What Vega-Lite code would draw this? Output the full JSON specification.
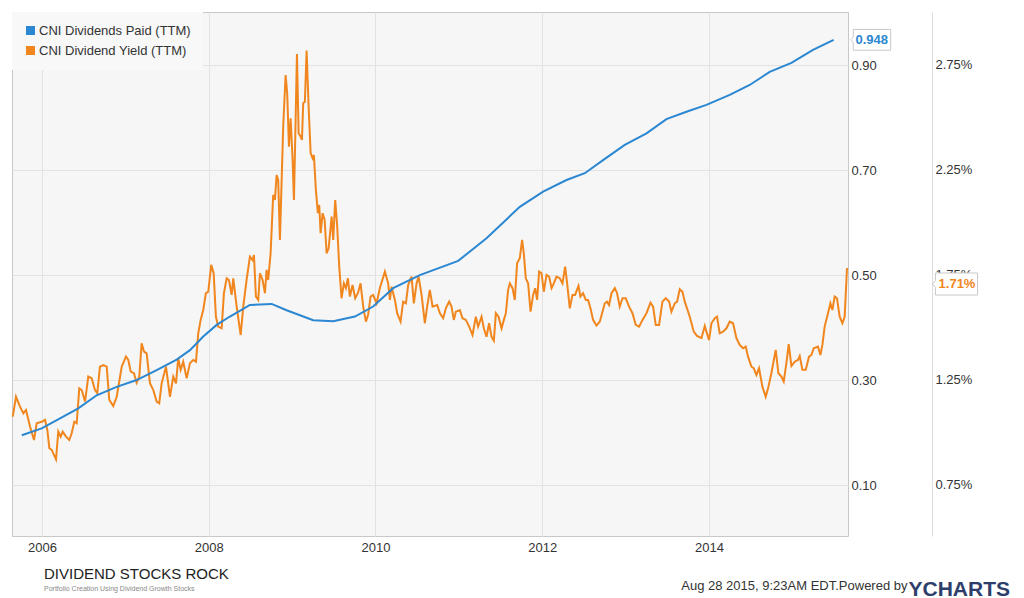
{
  "$schema": "https://vega.github.io/schema/vega-lite/v6.json",
  "width": 836,
  "height": 524,
  "autosize": {"type": "none"},
  "padding": {"left": 12, "top": 12, "right": 176, "bottom": 62},
  "background": "white",
  "config": {
    "font": "Liberation Sans",
    "view": {"fill": "#f6f6f6", "stroke": "#c8c8c8", "strokeWidth": 1},
    "axis": {
      "labelFont": "Liberation Sans",
      "labelFontSize": 13,
      "labelColor": "#333333",
      "ticks": false,
      "domain": false,
      "gridColor": "#e2e2e2",
      "gridWidth": 1
    }
  },
  "title": {
    "text": "DIVIDEND STOCKS ROCK",
    "subtitle": "Portfolio Creation Using Dividend Growth Stocks",
    "orient": "bottom",
    "anchor": "start",
    "frame": "group",
    "dx": 32,
    "dy": -32,
    "offset": 0,
    "font": "Liberation Sans",
    "fontSize": 15,
    "fontWeight": "normal",
    "color": "#222222",
    "subtitleFont": "Liberation Sans",
    "subtitleFontSize": 7,
    "subtitleColor": "#888888",
    "subtitlePadding": 3
  },
  "datasets": {
    "paid": [
      {"year": 2005.757, "paid": 0.195},
      {"year": 2005.996, "paid": 0.208},
      {"year": 2006.216, "paid": 0.227},
      {"year": 2006.435, "paid": 0.246},
      {"year": 2006.656, "paid": 0.271},
      {"year": 2006.896, "paid": 0.287},
      {"year": 2007.135, "paid": 0.300},
      {"year": 2007.375, "paid": 0.319},
      {"year": 2007.615, "paid": 0.339},
      {"year": 2007.775, "paid": 0.357},
      {"year": 2007.934, "paid": 0.383},
      {"year": 2008.095, "paid": 0.405},
      {"year": 2008.254, "paid": 0.421},
      {"year": 2008.494, "paid": 0.443},
      {"year": 2008.754, "paid": 0.445},
      {"year": 2008.934, "paid": 0.433},
      {"year": 2009.253, "paid": 0.414},
      {"year": 2009.493, "paid": 0.412},
      {"year": 2009.753, "paid": 0.421},
      {"year": 2009.972, "paid": 0.440},
      {"year": 2010.212, "paid": 0.475},
      {"year": 2010.532, "paid": 0.500},
      {"year": 2010.992, "paid": 0.527},
      {"year": 2011.332, "paid": 0.570},
      {"year": 2011.731, "paid": 0.630},
      {"year": 2012.011, "paid": 0.659},
      {"year": 2012.291, "paid": 0.681},
      {"year": 2012.511, "paid": 0.694},
      {"year": 2012.730, "paid": 0.719},
      {"year": 2012.990, "paid": 0.748},
      {"year": 2013.251, "paid": 0.770},
      {"year": 2013.490, "paid": 0.797},
      {"year": 2013.730, "paid": 0.811},
      {"year": 2013.970, "paid": 0.824},
      {"year": 2014.249, "paid": 0.843},
      {"year": 2014.489, "paid": 0.862},
      {"year": 2014.729, "paid": 0.887},
      {"year": 2014.989, "paid": 0.904},
      {"year": 2015.248, "paid": 0.929},
      {"year": 2015.496, "paid": 0.948}
    ],
    "yield": [
      {"year": 2005.649, "yield": 1.075},
      {"year": 2005.688, "yield": 1.170},
      {"year": 2005.736, "yield": 1.123},
      {"year": 2005.776, "yield": 1.091},
      {"year": 2005.808, "yield": 1.107},
      {"year": 2005.856, "yield": 1.028},
      {"year": 2005.904, "yield": 0.964},
      {"year": 2005.936, "yield": 1.044},
      {"year": 2005.996, "yield": 1.051},
      {"year": 2006.036, "yield": 1.060},
      {"year": 2006.064, "yield": 1.012},
      {"year": 2006.088, "yield": 0.925},
      {"year": 2006.116, "yield": 0.917},
      {"year": 2006.168, "yield": 0.872},
      {"year": 2006.195, "yield": 1.004},
      {"year": 2006.224, "yield": 0.980},
      {"year": 2006.248, "yield": 1.004},
      {"year": 2006.288, "yield": 0.980},
      {"year": 2006.327, "yield": 0.964},
      {"year": 2006.356, "yield": 0.996},
      {"year": 2006.387, "yield": 1.051},
      {"year": 2006.416, "yield": 1.044},
      {"year": 2006.447, "yield": 1.210},
      {"year": 2006.476, "yield": 1.202},
      {"year": 2006.516, "yield": 1.147},
      {"year": 2006.555, "yield": 1.266},
      {"year": 2006.596, "yield": 1.258},
      {"year": 2006.635, "yield": 1.202},
      {"year": 2006.663, "yield": 1.187},
      {"year": 2006.695, "yield": 1.313},
      {"year": 2006.735, "yield": 1.321},
      {"year": 2006.776, "yield": 1.313},
      {"year": 2006.807, "yield": 1.155},
      {"year": 2006.855, "yield": 1.126},
      {"year": 2006.896, "yield": 1.170},
      {"year": 2006.956, "yield": 1.313},
      {"year": 2007.007, "yield": 1.361},
      {"year": 2007.035, "yield": 1.345},
      {"year": 2007.064, "yield": 1.290},
      {"year": 2007.103, "yield": 1.282},
      {"year": 2007.135, "yield": 1.237},
      {"year": 2007.167, "yield": 1.266},
      {"year": 2007.195, "yield": 1.425},
      {"year": 2007.223, "yield": 1.385},
      {"year": 2007.255, "yield": 1.377},
      {"year": 2007.295, "yield": 1.234},
      {"year": 2007.335, "yield": 1.202},
      {"year": 2007.375, "yield": 1.147},
      {"year": 2007.406, "yield": 1.139},
      {"year": 2007.435, "yield": 1.234},
      {"year": 2007.487, "yield": 1.313},
      {"year": 2007.535, "yield": 1.170},
      {"year": 2007.574, "yield": 1.266},
      {"year": 2007.607, "yield": 1.234},
      {"year": 2007.634, "yield": 1.353},
      {"year": 2007.663, "yield": 1.298},
      {"year": 2007.694, "yield": 1.337},
      {"year": 2007.735, "yield": 1.258},
      {"year": 2007.775, "yield": 1.330},
      {"year": 2007.814, "yield": 1.345},
      {"year": 2007.847, "yield": 1.337},
      {"year": 2007.874, "yield": 1.472},
      {"year": 2007.903, "yield": 1.536},
      {"year": 2007.934, "yield": 1.583},
      {"year": 2007.966, "yield": 1.663},
      {"year": 2007.994, "yield": 1.670},
      {"year": 2008.030, "yield": 1.798},
      {"year": 2008.059, "yield": 1.758},
      {"year": 2008.086, "yield": 1.551},
      {"year": 2008.114, "yield": 1.504},
      {"year": 2008.155, "yield": 1.496},
      {"year": 2008.182, "yield": 1.663},
      {"year": 2008.215, "yield": 1.734},
      {"year": 2008.242, "yield": 1.726},
      {"year": 2008.275, "yield": 1.655},
      {"year": 2008.294, "yield": 1.734},
      {"year": 2008.335, "yield": 1.599},
      {"year": 2008.383, "yield": 1.464},
      {"year": 2008.414, "yield": 1.599},
      {"year": 2008.454, "yield": 1.726},
      {"year": 2008.494, "yield": 1.837},
      {"year": 2008.526, "yield": 1.821},
      {"year": 2008.542, "yield": 1.845},
      {"year": 2008.566, "yield": 1.647},
      {"year": 2008.594, "yield": 1.631},
      {"year": 2008.614, "yield": 1.758},
      {"year": 2008.646, "yield": 1.726},
      {"year": 2008.674, "yield": 1.663},
      {"year": 2008.694, "yield": 1.774},
      {"year": 2008.713, "yield": 1.726},
      {"year": 2008.742, "yield": 1.853},
      {"year": 2008.773, "yield": 2.131},
      {"year": 2008.794, "yield": 2.107},
      {"year": 2008.814, "yield": 2.226},
      {"year": 2008.833, "yield": 2.202},
      {"year": 2008.854, "yield": 1.917},
      {"year": 2008.878, "yield": 2.250},
      {"year": 2008.893, "yield": 2.456},
      {"year": 2008.922, "yield": 2.702},
      {"year": 2008.941, "yield": 2.615},
      {"year": 2008.962, "yield": 2.361},
      {"year": 2008.982, "yield": 2.496},
      {"year": 2009.006, "yield": 2.298},
      {"year": 2009.022, "yield": 2.107},
      {"year": 2009.037, "yield": 2.393},
      {"year": 2009.058, "yield": 2.802},
      {"year": 2009.078, "yield": 2.425},
      {"year": 2009.102, "yield": 2.409},
      {"year": 2009.118, "yield": 2.393},
      {"year": 2009.133, "yield": 2.568},
      {"year": 2009.153, "yield": 2.575},
      {"year": 2009.174, "yield": 2.818},
      {"year": 2009.198, "yield": 2.551},
      {"year": 2009.222, "yield": 2.330},
      {"year": 2009.246, "yield": 2.306},
      {"year": 2009.261, "yield": 2.321},
      {"year": 2009.285, "yield": 2.155},
      {"year": 2009.309, "yield": 2.044},
      {"year": 2009.325, "yield": 2.083},
      {"year": 2009.342, "yield": 1.949},
      {"year": 2009.366, "yield": 2.044},
      {"year": 2009.390, "yield": 2.012},
      {"year": 2009.414, "yield": 1.853},
      {"year": 2009.438, "yield": 1.877},
      {"year": 2009.474, "yield": 2.028},
      {"year": 2009.493, "yield": 1.917},
      {"year": 2009.517, "yield": 2.107},
      {"year": 2009.541, "yield": 1.980},
      {"year": 2009.565, "yield": 1.790},
      {"year": 2009.593, "yield": 1.639},
      {"year": 2009.621, "yield": 1.710},
      {"year": 2009.645, "yield": 1.687},
      {"year": 2009.669, "yield": 1.734},
      {"year": 2009.693, "yield": 1.647},
      {"year": 2009.725, "yield": 1.702},
      {"year": 2009.757, "yield": 1.639},
      {"year": 2009.789, "yield": 1.663},
      {"year": 2009.821, "yield": 1.710},
      {"year": 2009.853, "yield": 1.599},
      {"year": 2009.885, "yield": 1.528},
      {"year": 2009.912, "yield": 1.560},
      {"year": 2009.941, "yield": 1.647},
      {"year": 2009.972, "yield": 1.655},
      {"year": 2010.013, "yield": 1.615},
      {"year": 2010.053, "yield": 1.688},
      {"year": 2010.113, "yield": 1.766},
      {"year": 2010.152, "yield": 1.710},
      {"year": 2010.173, "yield": 1.631},
      {"year": 2010.193, "yield": 1.694},
      {"year": 2010.233, "yield": 1.631},
      {"year": 2010.260, "yield": 1.568},
      {"year": 2010.301, "yield": 1.528},
      {"year": 2010.332, "yield": 1.623},
      {"year": 2010.365, "yield": 1.615},
      {"year": 2010.392, "yield": 1.702},
      {"year": 2010.433, "yield": 1.742},
      {"year": 2010.460, "yield": 1.615},
      {"year": 2010.493, "yield": 1.710},
      {"year": 2010.517, "yield": 1.742},
      {"year": 2010.553, "yield": 1.655},
      {"year": 2010.592, "yield": 1.520},
      {"year": 2010.620, "yield": 1.599},
      {"year": 2010.652, "yield": 1.679},
      {"year": 2010.685, "yield": 1.599},
      {"year": 2010.740, "yield": 1.607},
      {"year": 2010.772, "yield": 1.568},
      {"year": 2010.812, "yield": 1.544},
      {"year": 2010.844, "yield": 1.591},
      {"year": 2010.884, "yield": 1.623},
      {"year": 2010.912, "yield": 1.599},
      {"year": 2010.940, "yield": 1.536},
      {"year": 2010.964, "yield": 1.575},
      {"year": 2011.012, "yield": 1.583},
      {"year": 2011.044, "yield": 1.544},
      {"year": 2011.084, "yield": 1.536},
      {"year": 2011.124, "yield": 1.504},
      {"year": 2011.164, "yield": 1.464},
      {"year": 2011.204, "yield": 1.551},
      {"year": 2011.231, "yield": 1.504},
      {"year": 2011.272, "yield": 1.551},
      {"year": 2011.300, "yield": 1.496},
      {"year": 2011.332, "yield": 1.456},
      {"year": 2011.363, "yield": 1.520},
      {"year": 2011.392, "yield": 1.456},
      {"year": 2011.420, "yield": 1.437},
      {"year": 2011.444, "yield": 1.568},
      {"year": 2011.476, "yield": 1.551},
      {"year": 2011.512, "yield": 1.496},
      {"year": 2011.540, "yield": 1.536},
      {"year": 2011.564, "yield": 1.568},
      {"year": 2011.591, "yield": 1.679},
      {"year": 2011.612, "yield": 1.710},
      {"year": 2011.644, "yield": 1.687},
      {"year": 2011.671, "yield": 1.631},
      {"year": 2011.699, "yield": 1.806},
      {"year": 2011.731, "yield": 1.830},
      {"year": 2011.759, "yield": 1.917},
      {"year": 2011.779, "yield": 1.853},
      {"year": 2011.803, "yield": 1.734},
      {"year": 2011.831, "yield": 1.710},
      {"year": 2011.860, "yield": 1.575},
      {"year": 2011.891, "yield": 1.655},
      {"year": 2011.915, "yield": 1.687},
      {"year": 2011.939, "yield": 1.631},
      {"year": 2011.963, "yield": 1.766},
      {"year": 2011.992, "yield": 1.758},
      {"year": 2012.019, "yield": 1.670},
      {"year": 2012.052, "yield": 1.750},
      {"year": 2012.083, "yield": 1.742},
      {"year": 2012.112, "yield": 1.687},
      {"year": 2012.139, "yield": 1.710},
      {"year": 2012.171, "yield": 1.742},
      {"year": 2012.211, "yield": 1.734},
      {"year": 2012.243, "yield": 1.710},
      {"year": 2012.275, "yield": 1.790},
      {"year": 2012.299, "yield": 1.710},
      {"year": 2012.331, "yield": 1.591},
      {"year": 2012.363, "yield": 1.655},
      {"year": 2012.394, "yield": 1.655},
      {"year": 2012.435, "yield": 1.698},
      {"year": 2012.459, "yield": 1.647},
      {"year": 2012.490, "yield": 1.663},
      {"year": 2012.523, "yield": 1.631},
      {"year": 2012.550, "yield": 1.631},
      {"year": 2012.579, "yield": 1.591},
      {"year": 2012.610, "yield": 1.536},
      {"year": 2012.651, "yield": 1.509},
      {"year": 2012.691, "yield": 1.528},
      {"year": 2012.751, "yield": 1.615},
      {"year": 2012.778, "yield": 1.623},
      {"year": 2012.802, "yield": 1.607},
      {"year": 2012.831, "yield": 1.663},
      {"year": 2012.871, "yield": 1.687},
      {"year": 2012.898, "yield": 1.663},
      {"year": 2012.930, "yield": 1.599},
      {"year": 2012.963, "yield": 1.639},
      {"year": 2013.002, "yield": 1.639},
      {"year": 2013.042, "yield": 1.599},
      {"year": 2013.083, "yield": 1.568},
      {"year": 2013.122, "yield": 1.512},
      {"year": 2013.162, "yield": 1.504},
      {"year": 2013.203, "yield": 1.536},
      {"year": 2013.251, "yield": 1.568},
      {"year": 2013.299, "yield": 1.618},
      {"year": 2013.330, "yield": 1.599},
      {"year": 2013.362, "yield": 1.512},
      {"year": 2013.402, "yield": 1.512},
      {"year": 2013.442, "yield": 1.623},
      {"year": 2013.482, "yield": 1.639},
      {"year": 2013.522, "yield": 1.623},
      {"year": 2013.550, "yield": 1.575},
      {"year": 2013.590, "yield": 1.615},
      {"year": 2013.618, "yield": 1.623},
      {"year": 2013.650, "yield": 1.682},
      {"year": 2013.682, "yield": 1.670},
      {"year": 2013.710, "yield": 1.623},
      {"year": 2013.737, "yield": 1.591},
      {"year": 2013.770, "yield": 1.551},
      {"year": 2013.818, "yield": 1.480},
      {"year": 2013.857, "yield": 1.460},
      {"year": 2013.910, "yield": 1.449},
      {"year": 2013.950, "yield": 1.507},
      {"year": 2013.970, "yield": 1.480},
      {"year": 2014.001, "yield": 1.440},
      {"year": 2014.030, "yield": 1.520},
      {"year": 2014.070, "yield": 1.544},
      {"year": 2014.097, "yield": 1.551},
      {"year": 2014.129, "yield": 1.472},
      {"year": 2014.169, "yield": 1.480},
      {"year": 2014.210, "yield": 1.496},
      {"year": 2014.249, "yield": 1.528},
      {"year": 2014.289, "yield": 1.520},
      {"year": 2014.330, "yield": 1.449},
      {"year": 2014.369, "yield": 1.417},
      {"year": 2014.409, "yield": 1.401},
      {"year": 2014.441, "yield": 1.409},
      {"year": 2014.469, "yield": 1.361},
      {"year": 2014.510, "yield": 1.313},
      {"year": 2014.537, "yield": 1.306},
      {"year": 2014.570, "yield": 1.274},
      {"year": 2014.601, "yield": 1.306},
      {"year": 2014.641, "yield": 1.218},
      {"year": 2014.681, "yield": 1.170},
      {"year": 2014.709, "yield": 1.210},
      {"year": 2014.749, "yield": 1.282},
      {"year": 2014.801, "yield": 1.393},
      {"year": 2014.833, "yield": 1.282},
      {"year": 2014.869, "yield": 1.266},
      {"year": 2014.897, "yield": 1.242},
      {"year": 2014.929, "yield": 1.330},
      {"year": 2014.957, "yield": 1.421},
      {"year": 2014.989, "yield": 1.317},
      {"year": 2015.029, "yield": 1.337},
      {"year": 2015.068, "yield": 1.345},
      {"year": 2015.089, "yield": 1.364},
      {"year": 2015.121, "yield": 1.298},
      {"year": 2015.161, "yield": 1.298},
      {"year": 2015.200, "yield": 1.361},
      {"year": 2015.229, "yield": 1.369},
      {"year": 2015.257, "yield": 1.401},
      {"year": 2015.308, "yield": 1.409},
      {"year": 2015.337, "yield": 1.369},
      {"year": 2015.361, "yield": 1.417},
      {"year": 2015.388, "yield": 1.504},
      {"year": 2015.428, "yield": 1.568},
      {"year": 2015.457, "yield": 1.615},
      {"year": 2015.481, "yield": 1.583},
      {"year": 2015.508, "yield": 1.647},
      {"year": 2015.536, "yield": 1.639},
      {"year": 2015.568, "yield": 1.551},
      {"year": 2015.601, "yield": 1.520},
      {"year": 2015.628, "yield": 1.551},
      {"year": 2015.656, "yield": 1.783}
    ]
  },
  "encoding": {
    "x": {
      "field": "year",
      "type": "quantitative",
      "scale": {"domain": [2005.64, 2015.668], "nice": false, "zero": false},
      "axis": {
        "values": [2006, 2008, 2010, 2012, 2014],
        "format": "d",
        "grid": true,
        "labelPadding": 5,
        "title": null
      }
    }
  },
  "layer": [
    {
      "data": {"name": "yield"},
      "encoding": {
        "y": {
          "field": "yield",
          "type": "quantitative",
          "scale": {"domain": [0.507, 3.002], "nice": false, "zero": false},
          "axis": {
            "orient": "right",
            "offset": 84,
            "values": [0.75, 1.25, 1.75, 2.25, 2.75],
            "labelExpr": "format(datum.value, '.2f') + '%'",
            "grid": false,
            "domain": true,
            "domainColor": "#dddddd",
            "labelPadding": 3,
            "title": "YCHARTS",
            "titleAngle": 0,
            "titleX": -24,
            "titleY": 583,
            "titleAlign": "left",
            "titleBaseline": "alphabetic",
            "titleFont": "Liberation Sans",
            "titleFontSize": 21,
            "titleFontWeight": "bold",
            "titleColor": "#2e3e6a"
          }
        }
      },
      "layer": [
        {
          "mark": {"type": "line", "strokeWidth": 2},
          "encoding": {
            "color": {
              "datum": "CNI Dividend Yield (TTM)",
              "type": "nominal",
              "scale": {
                "domain": ["CNI Dividends Paid (TTM)", "CNI Dividend Yield (TTM)"],
                "range": ["#2b87d1", "#f0861d"]
              },
              "legend": {
                "title": null,
                "orient": "top-left",
                "offset": 0,
                "padding": 12,
                "fillColor": "#f8f8f8",
                "symbolType": "square",
                "symbolSize": 81,
                "symbolStrokeWidth": 0,
                "labelFont": "Liberation Sans",
                "labelFontSize": 13,
                "labelColor": "#333333",
                "labelOffset": 2,
                "rowPadding": 6,
                "encode": {
                  "symbols": {"update": {"fill": {"scale": "color", "field": "value"}}}
                }
              }
            }
          }
        },
        {
          "transform": [
            {"joinaggregate": [{"op": "max", "field": "year", "as": "last"}]},
            {"filter": "datum.year == datum.last"}
          ],
          "mark": {
            "type": "point",
            "shape": "M-0.87,-0.49L1,-0.49L1,0.49L-0.87,0.49L-0.87,0.15L-1,0L-0.87,-0.15Z",
            "size": 2025,
            "filled": true,
            "fill": "white",
            "stroke": "#c8c8c8",
            "strokeWidth": 1,
            "opacity": 1,
            "xOffset": 108,
            "yOffset": 16,
            "clip": false
          }
        },
        {
          "transform": [
            {"joinaggregate": [{"op": "max", "field": "year", "as": "last"}]},
            {"filter": "datum.year == datum.last"}
          ],
          "mark": {
            "type": "text",
            "text": "1.71%",
            "dx": 110,
            "dy": 16,
            "align": "center",
            "baseline": "middle",
            "font": "Liberation Sans",
            "fontSize": 13,
            "fontWeight": "bold",
            "color": "#f0861d",
            "clip": false
          }
        }
      ]
    },
    {
      "data": {"name": "paid"},
      "encoding": {
        "y": {
          "field": "paid",
          "type": "quantitative",
          "scale": {"domain": [0.003, 1.001], "nice": false, "zero": false},
          "axis": {
            "orient": "right",
            "values": [0.1, 0.3, 0.5, 0.7, 0.9],
            "format": ".2f",
            "grid": true,
            "labelPadding": 3,
            "title": "Aug 28 2015, 9:23AM EDT.Powered by",
            "titleAngle": 0,
            "titleX": 59,
            "titleY": 577,
            "titleAlign": "right",
            "titleBaseline": "alphabetic",
            "titleFont": "Liberation Sans",
            "titleFontSize": 13,
            "titleFontWeight": "normal",
            "titleColor": "#333333"
          }
        }
      },
      "layer": [
        {
          "mark": {"type": "line", "strokeWidth": 2},
          "encoding": {
            "color": {"datum": "CNI Dividends Paid (TTM)", "type": "nominal"}
          }
        },
        {
          "transform": [
            {"joinaggregate": [{"op": "max", "field": "year", "as": "last"}]},
            {"filter": "datum.year == datum.last"}
          ],
          "mark": {
            "type": "point",
            "shape": "M-0.87,-0.52L1,-0.52L1,0.52L-0.87,0.52L-0.87,0.15L-1,0L-0.87,-0.15Z",
            "size": 1600,
            "filled": true,
            "fill": "white",
            "stroke": "#c8c8c8",
            "strokeWidth": 1,
            "opacity": 1,
            "xOffset": 37,
            "yOffset": 0,
            "clip": false
          }
        },
        {
          "transform": [
            {"joinaggregate": [{"op": "max", "field": "year", "as": "last"}]},
            {"filter": "datum.year == datum.last"}
          ],
          "mark": {
            "type": "text",
            "text": "0.948",
            "dx": 38,
            "dy": 0,
            "align": "center",
            "baseline": "middle",
            "font": "Liberation Sans",
            "fontSize": 13,
            "fontWeight": "bold",
            "color": "#2b87d1",
            "clip": false
          }
        }
      ]
    }
  ],
  "resolve": {"scale": {"y": "independent"}}
}
